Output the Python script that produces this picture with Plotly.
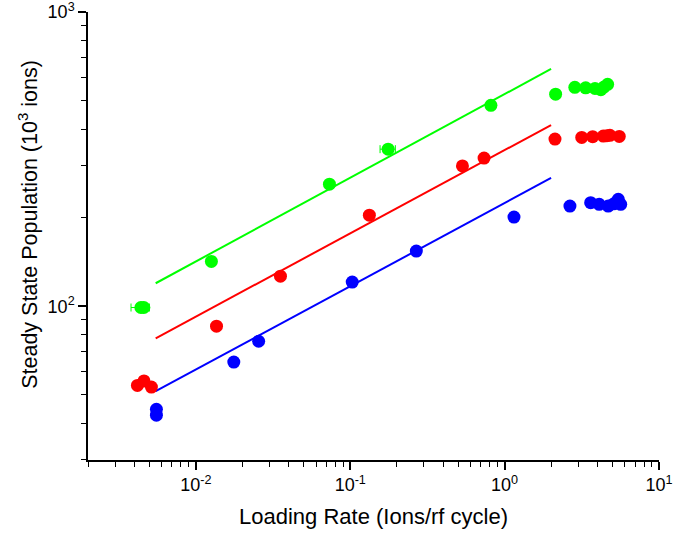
import plotly.graph_objects as go

# ---- data ----
green_x = [0.0044, 0.0046, 0.0126, 0.0733, 0.176, 0.815, 2.14, 2.85, 3.35, 3.85, 4.2, 4.4, 4.65]
green_y = [99, 99, 142, 260, 342, 482, 526, 555, 553, 550, 545, 556, 568]
green_xerr = [0.0006, 0, 0, 0, 0.02, 0, 0, 0, 0, 0, 0, 0, 0]

red_x = [0.00418, 0.00461, 0.00515, 0.0136, 0.0353, 0.133, 0.533, 0.736, 2.12, 3.16, 3.72, 4.36, 4.6, 4.81, 5.53]
red_y = [53.8, 55.7, 53.1, 85.5, 126.5, 204, 300, 319, 370, 375, 377, 379, 380, 381, 378]

blue_x = [0.00555, 0.00555, 0.0176, 0.0255, 0.103, 0.268, 1.15, 2.65, 3.61, 4.1, 4.69, 5.1, 5.45, 5.65]
blue_y = [44.6, 42.6, 64.6, 76.0, 120.8, 154, 201, 219, 225, 222, 219, 223, 231, 222]

fit_x = [0.00549, 2.0]
green_fit_y = [119.7, 641]
red_fit_y = [77.8, 413]
blue_fit_y = [51.4, 273]

x_tickvals = [0.01, 0.1, 1, 10]
x_ticktext = ["10<sup>-2</sup>", "10<sup>-1</sup>", "10<sup>0</sup>", "10<sup>1</sup>"]
y_tickvals = [100, 1000]
y_ticktext = ["10<sup>2</sup>", "10<sup>3</sup>"]

x_title = "Loading Rate (Ions/rf cycle)"
y_title = "Steady State Population (10<sup>3</sup> ions)"

GREEN, RED, BLUE = "#00FF00", "#FF0000", "#0000FF"
FONT = "Liberation Sans, Arial, sans-serif"

fig = go.Figure()

for fy, col in [(green_fit_y, GREEN), (red_fit_y, RED), (blue_fit_y, BLUE)]:
    fig.add_trace(go.Scatter(x=fit_x, y=fy, mode="lines",
                             line=dict(color=col, width=2), showlegend=False,
                             hoverinfo="skip"))

fig.add_trace(go.Scatter(x=green_x, y=green_y, mode="markers",
                         marker=dict(color=GREEN, size=13),
                         error_x=dict(type="data", array=green_xerr, visible=True,
                                      color=GREEN, thickness=1, width=4),
                         showlegend=False))
fig.add_trace(go.Scatter(x=red_x, y=red_y, mode="markers",
                         marker=dict(color=RED, size=13), showlegend=False))
fig.add_trace(go.Scatter(x=blue_x, y=blue_y, mode="markers",
                         marker=dict(color=BLUE, size=13), showlegend=False))

axis_common = dict(
    type="log", showline=True, linecolor="black", linewidth=1.5,
    ticks="outside", ticklen=8, tickwidth=1.5, tickcolor="black",
    showgrid=False, zeroline=False, mirror=False, automargin=False,
    ticklabeloverflow="allow",
    tickfont=dict(family=FONT, size=18, color="black"),
    minor=dict(ticks="outside", ticklen=5, tickwidth=1.2, tickcolor="black",
               dtick="D1", showgrid=False),
)

fig.update_xaxes(**axis_common, range=[-2.69897, 1.0002],
                 tickvals=x_tickvals, ticktext=x_ticktext,
                 title=dict(text=x_title, font=dict(family=FONT, size=22, color="black"),
                            standoff=14))
fig.update_yaxes(**axis_common, range=[1.4771, 3.0004],
                 tickvals=y_tickvals, ticktext=y_ticktext)

fig.add_annotation(text=y_title, xref="paper", yref="paper",
                   x=-0.105, y=0.525, xanchor="center", yanchor="middle",
                   textangle=-90, showarrow=False,
                   font=dict(family=FONT, size=21.5, color="black"))

fig.update_layout(
    width=697, height=539,
    margin=dict(l=88, r=38, t=12, b=79),
    plot_bgcolor="white", paper_bgcolor="white",
    font=dict(family=FONT, color="black"),
)

fig.write_html("out.html")
